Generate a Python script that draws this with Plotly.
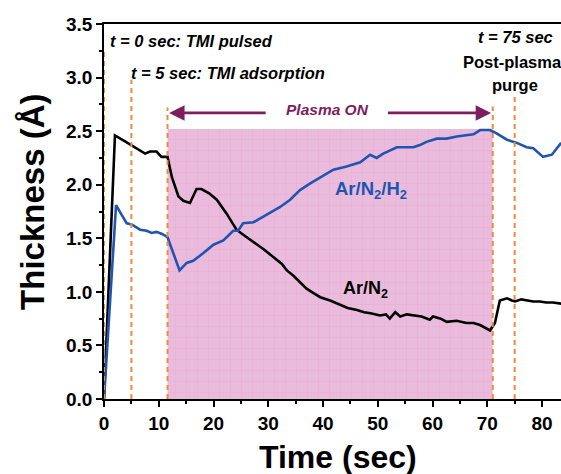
import plotly.graph_objects as go

# ---- data ----
t_n2 = [0, 2.0, 4.0, 5.0, 6.6, 7.5, 8.4, 9.6, 10.5, 11.6, 12.4, 13.6, 14.5, 15.7, 16.9, 17.8, 19.2, 20.6,
        22.4, 24.2, 25.5, 26.7, 28.0, 29.1, 30.3, 31.5, 32.5, 33.4, 34.6, 35.8, 37.0, 38.2, 39.5, 41.3,
        43.0, 44.5, 46.2, 47.5, 48.7, 50.4, 51.5, 52.2, 53.2, 54.1, 55.3, 56.5, 58.0, 59.5, 60.1, 61.5,
        62.6, 64.4, 66.2, 67.5, 68.7, 70.5, 71.4, 72.3, 73.6, 74.5, 75.1, 76.2, 77.2, 78.4, 79.6, 80.8,
        82.0, 83.5]
y_n2 = [0, 2.46, 2.40, 2.37, 2.32, 2.29, 2.31, 2.31, 2.26, 2.26, 2.07, 1.89, 1.85, 1.83, 1.96, 1.96, 1.92,
        1.86, 1.73, 1.58, 1.53, 1.49, 1.44, 1.40, 1.35, 1.30, 1.26, 1.20, 1.15, 1.09, 1.03, 0.99, 0.95,
        0.92, 0.88, 0.85, 0.83, 0.81, 0.80, 0.78, 0.79, 0.75, 0.81, 0.77, 0.79, 0.78, 0.77, 0.74, 0.77,
        0.75, 0.72, 0.73, 0.71, 0.71, 0.69, 0.64, 0.71, 0.92, 0.94, 0.92, 0.91, 0.93, 0.92, 0.91, 0.91,
        0.90, 0.90, 0.89]

t_h2 = [0, 2.2, 3.2, 4.15, 5.06, 6.6, 7.8, 8.7, 9.6, 10.6, 11.6, 12.4, 13.8, 15.1, 16.3, 18.1, 20.0, 21.8,
        23.6, 24.5, 25.4, 27.3, 29.7, 32.1, 34.0, 35.8, 37.6, 39.5, 41.9, 44.3, 46.8, 48.6, 49.8, 51.0,
        52.2, 53.5, 55.0, 56.5, 57.7, 58.9, 60.8, 62.6, 64.4, 66.2, 67.5, 68.7, 70.5, 71.7, 73.6, 75.4,
        77.2, 78.4, 80.2, 81.8, 83.5]
y_h2 = [0, 1.81, 1.72, 1.64, 1.63, 1.58, 1.57, 1.55, 1.56, 1.54, 1.51, 1.39, 1.20, 1.27, 1.29, 1.36, 1.44,
        1.48, 1.57, 1.57, 1.64, 1.65, 1.72, 1.79, 1.86, 1.95, 2.01, 2.07, 2.14, 2.17, 2.21, 2.28, 2.25,
        2.29, 2.32, 2.35, 2.35, 2.35, 2.37, 2.40, 2.43, 2.43, 2.45, 2.46, 2.47, 2.51, 2.51, 2.48, 2.42,
        2.39, 2.35, 2.34, 2.26, 2.28, 2.39]

plasma_start, plasma_end, plasma_top = 11.6, 71.0, 2.52
event_x = [0, 5, 11.6, 71.0, 75.0]
event_top = [3.26, 2.98, 2.72, 2.73, 2.84]

x_ticks = [0, 10, 20, 30, 40, 50, 60, 70, 80]
y_ticks = [0.0, 0.5, 1.0, 1.5, 2.0, 2.5, 3.0, 3.5]

FONT = "Liberation Sans, Arial, sans-serif"
ORANGE = "#F08A3C"
PURPLE = "#7E1E5E"
BLUE = "#1F55B0"

fig = go.Figure()

# plasma shading
fig.add_trace(go.Scatter(
    x=[plasma_start, plasma_end, plasma_end, plasma_start, plasma_start],
    y=[0, 0, plasma_top, plasma_top, 0],
    fill="toself", mode="lines", line=dict(width=0),
    fillcolor="#E9BCDD",
    fillpattern=dict(shape="+", fgcolor="#F0A2CA", bgcolor="#E9BCDD", size=11, solidity=0.12),
    hoverinfo="skip", showlegend=False))

fig.add_trace(go.Scatter(x=t_n2, y=y_n2, mode="lines", line=dict(color="black", width=2.6),
                         showlegend=False))
fig.add_trace(go.Scatter(x=t_h2, y=y_h2, mode="lines", line=dict(color=BLUE, width=2.6),
                         showlegend=False))

for xv, top in zip(event_x, event_top):
    fig.add_shape(type="line", xref="x", yref="y", x0=xv, x1=xv, y0=0, y1=top,
                  line=dict(color=ORANGE, width=2, dash="5px,4px"), layer="above")

ann = []
def txt(x, y, s, size=16.5, color="black", xanchor="left"):
    ann.append(dict(x=x, y=y, xref="x", yref="y", text=s, showarrow=False,
                    xanchor=xanchor, yanchor="middle", font=dict(family=FONT, size=size, color=color)))

txt(0.7, 3.34, "<b><i>t = 0 sec: TMI pulsed</i></b>")
txt(4.6, 3.04, "<b><i>t = 5 sec: TMI adsorption</i></b>")
txt(75.1, 3.38, "<b><i>t = 75 sec</i></b>", xanchor="center")
txt(74.7, 3.15, "<b>Post-plasma</b>", xanchor="center")
txt(75.1, 2.93, "<b>purge</b>", xanchor="center")
txt(40.9, 2.70, "<b><i>Plasma ON</i></b>", size=15.5, color=PURPLE, xanchor="center")
txt(48.7, 1.95, "<b>Ar/N<sub>2</sub>/H<sub>2</sub></b>", size=18.5, color=BLUE, xanchor="center")
txt(47.8, 1.02, "<b>Ar/N<sub>2</sub></b>", size=18, color="black", xanchor="center")

# arrows
for head, tail in [(11.9, 29.8), (70.7, 51.6)]:
    ann.append(dict(x=head, y=2.67, ax=tail, ay=2.67, xref="x", yref="y", axref="x", ayref="y",
                    text="", showarrow=True, arrowhead=2, arrowsize=1.1, arrowwidth=2.8,
                    arrowcolor=PURPLE))

# axis titles
ann.append(dict(x=0.512, y=-0.155, xref="paper", yref="paper", text="<b>Time (sec)</b>",
                showarrow=False, xanchor="center", yanchor="middle",
                font=dict(family=FONT, size=32, color="black")))
ann.append(dict(x=-0.158, y=0.525, xref="paper", yref="paper", text="<b>Thickness (Å)</b>",
                showarrow=False, xanchor="center", yanchor="middle", textangle=-90,
                font=dict(family=FONT, size=33, color="black")))

fig.update_layout(
    width=561, height=474,
    margin=dict(l=104, r=0, t=24, b=75),
    paper_bgcolor="white", plot_bgcolor="white",
    annotations=ann,
    font=dict(family=FONT),
    xaxis=dict(range=[0, 83.47], tickvals=x_ticks, ticks="outside", ticklen=6, tickwidth=1.5,
               tickcolor="black", showline=True, linecolor="black", linewidth=1.5, mirror=True,
               showgrid=False, zeroline=False,
               tickfont=dict(family=FONT, size=19, color="black", weight="bold"),
               minor=dict(dtick=5, ticks="outside", ticklen=3, tickwidth=1.5, tickcolor="black", showgrid=False)),
    yaxis=dict(range=[0, 3.5], tickvals=y_ticks, tickformat=".1f", ticks="outside", ticklen=6,
               tickwidth=1.5, tickcolor="black", showline=True, linecolor="black", linewidth=1.5,
               mirror=False, showgrid=False, zeroline=False,
               tickfont=dict(family=FONT, size=19, color="black", weight="bold"),
               minor=dict(dtick=0.25, ticks="outside", ticklen=3, tickwidth=1.5, tickcolor="black", showgrid=False)),
)

fig.write_html("out.html")
